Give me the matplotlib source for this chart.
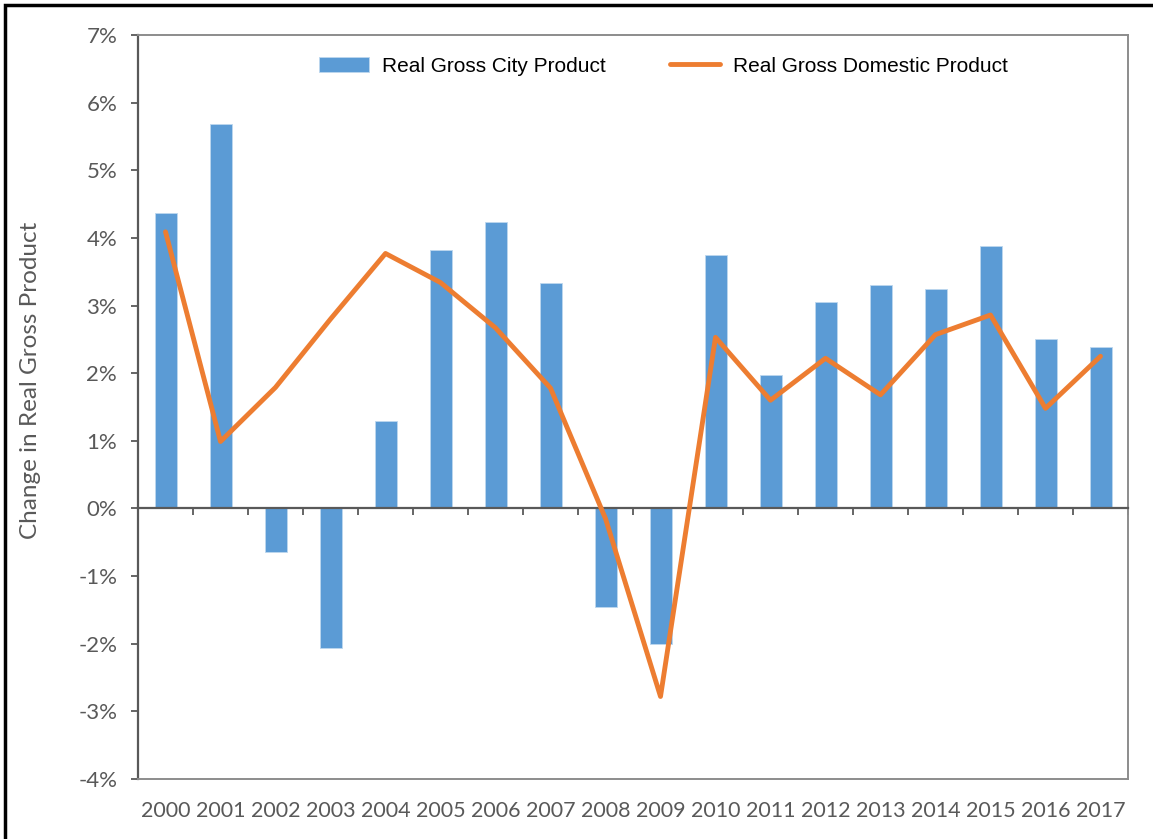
import matplotlib.pyplot as plt
from matplotlib.patches import Rectangle
from matplotlib.ticker import FuncFormatter, MultipleLocator

years = [str(y) for y in range(2000, 2018)]
# % change
city_gp = [4.37, 5.68, -0.64, -2.06, 1.30, 3.82, 4.23, 3.33, -1.45, -2.00,
           3.74, 1.98, 3.05, 3.31, 3.25, 3.88, 2.50, 2.39]
us_gdp = [4.09, 0.99, 1.79, 2.80, 3.77, 3.34, 2.67, 1.78, -0.15, -2.78,
          2.53, 1.60, 2.22, 1.68, 2.57, 2.86, 1.48, 2.25]

tick_font = 'Lato'
tick_color = '#595959'
frame_color = '#8c8c8c'

fig = plt.figure(figsize=(11.53, 8.39), dpi=100)
ax = fig.add_axes([138 / 1153, 1 - 779 / 839, 990 / 1153, 744 / 839])

x = list(range(len(years)))
bars = ax.bar(x, city_gp, width=0.4, color='#5B9BD5', edgecolor='#bdd7ee',
              linewidth=0.6, label='Real Gross City Product', zorder=1)
line, = ax.plot(x, us_gdp, color='#ED7D31', lw=3.5, solid_joinstyle='round',
                solid_capstyle='round', label='Real Gross Domestic Product', zorder=4)

ax.set_xlim(-0.5, len(years) - 0.5)
ax.set_ylim(-4, 7)
ax.yaxis.set_major_locator(MultipleLocator(1))
ax.yaxis.set_major_formatter(FuncFormatter(lambda v, p: f'{v:.0f}%'))
ax.tick_params(axis='y', length=5, width=1.3, color=tick_color, pad=10,
               labelsize=16, labelcolor=tick_color)
for lab in ax.get_yticklabels():
    lab.set_fontfamily(tick_font)

# category axis sits on zero, ticks between categories
ax.spines['bottom'].set_position(('data', 0))
ax.spines['bottom'].set_color(tick_color)
ax.spines['bottom'].set_linewidth(1.6)
ax.spines['bottom'].set_zorder(3)
ax.set_xticks([i + 0.5 for i in x])
ax.set_xticklabels([])
ax.tick_params(axis='x', direction='out', length=5, width=1.3, color=tick_color)
ax.spines['left'].set_color(tick_color)
ax.spines['left'].set_linewidth(1.6)
for s in ['top', 'right']:
    ax.spines[s].set_color(frame_color)
    ax.spines[s].set_linewidth(1.4)

# year labels along the bottom of the plot area
ax2 = ax.twiny()
ax2.set_xlim(ax.get_xlim())
ax2.xaxis.set_ticks_position('bottom')
ax2.set_xticks(x)
ax2.set_xticklabels(years, fontfamily=tick_font, fontsize=15.5, color=tick_color)
ax2.tick_params(axis='x', length=0, pad=16)
ax2.spines['bottom'].set_color(frame_color)
ax2.spines['bottom'].set_linewidth(1.4)
for s in ['top', 'left', 'right']:
    ax2.spines[s].set_visible(False)

ax.set_ylabel('Change in Real Gross Product', fontfamily=tick_font, fontsize=17.5,
              color=tick_color)
ax.yaxis.set_label_coords(-0.098, 0.536)

ax.legend(handles=[bars, line], loc='center left', bbox_to_anchor=(0.183, 0.958),
          ncol=2, frameon=False, borderpad=0, borderaxespad=0, handlelength=2.4,
          handleheight=0.7, handletextpad=0.6, columnspacing=3.1,
          prop={'family': 'Liberation Sans', 'size': 15})

# outer black frame
fig.patches.append(Rectangle((5 / 1153, -0.01), 1.02, 1 - 5 / 839 + 0.01,
                             transform=fig.transFigure, fill=False,
                             edgecolor='black', lw=2.5, clip_on=False))

fig.savefig('out.png', dpi=100)
